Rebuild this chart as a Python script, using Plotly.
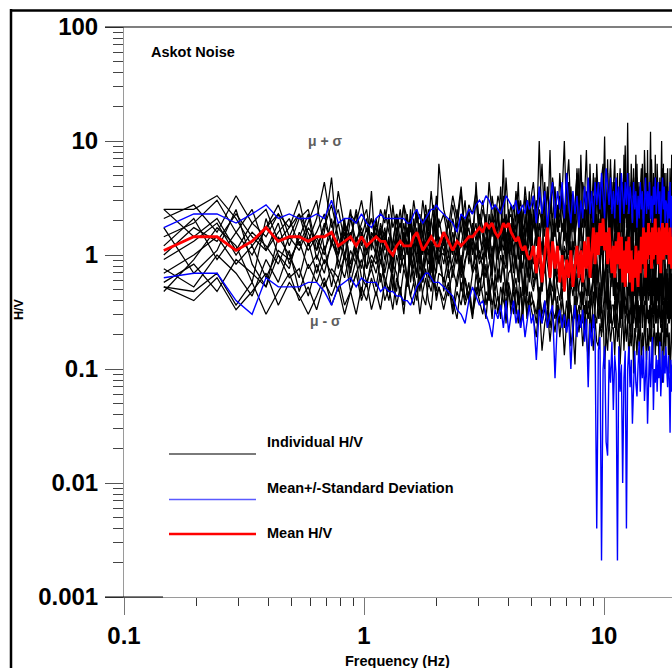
import plotly.graph_objects as go

# ---------------- data ----------------
# frequency resolution of the spectra (Hz) and the frequency bins that are plotted
DF = 0.048828125
BINS = list(range(3, 43)) + list(range(44, 103, 2)) + list(range(104, 402, 3))

# H/V values, stored as log codes: code n  <->  H/V = 10 ** ((n - 70) / 25)
HV_01 = """78 81 75 83 77 74 79 76 82 73  78 86 76 80 73 79 77 82 75 78  74 80 77 83 76 79 73 81 78 75  82 77 79 74 81 76 84 78 75 90
80 76 83 78 85 74 81 79 84 77  82 75 86 79 77 83 80 74 87 78  81 76 84 79 82 77 85 80 76 83
86 78 81 90 76 84 79 87 82 75  88 80 77 85 91 79 83 76 89 81  78 86 83 93 77 84 80 88 75 90  82 79 87 90 80 76 85 81 89 78
84 91 77 83 80 88 76 86 82 94  79 85 81 77 90 83 87 78 92 80  86 76 84 89 81 79 93 83 77 88  80 85 78 91 84 76 87 82 79 90
83 77 86 81 95 79 84 88 76 85  81 89 78 84 80 87 77 92 83 79"""
HV_02 = """80 74 78 71 77 80 73 76 79 72  75 79 72 84 76 73 80 74 78 71  77 73 80 75 72 79 76 81 74 78  73 79 75 82 77 72 78 74 80 76
79 73 81 76 84 72 78 75 82 74  80 77 72 83 78 75 85 73 79 76  74 81 77 86 72 79 83 75 80 78
83 74 80 77 86 72 81 78 85 76  79 84 73 88 77 82 75 80 87 74  81 76 85 79 72 90 78 83 76 86  77 82 75 88 80 73 84 79 91 76
80 86 74 82 78 89 75 83 77 85  76 81 88 73 84 79 86 75 82 90  78 85 74 80 90 77 83 76 88 81  75 83 79 86 73 81 77 92 78 84
80 76 87 74 83 79 90 77 85 75  82 78 84 76 89 80 75 86 79 83"""
HV_03 = """74 77 82 75 70 76 79 72 78 80  71 76 81 74 69 78 73 77 80 72  78 72 76 70 81 74 77 73 79 71  76 80 72 78 74 70 77 81 73 78
72 78 70 80 75 82 71 77 73 79  76 71 79 74 81 70 76 83 72 78  79 73 77 71 80 75 72 82 77 74
76 82 71 79 74 85 78 72 80 77  83 75 79 72 86 77 81 74 78 89  73 80 76 84 71 78 82 75 87 74  79 72 85 77 81 74 88 76 80 73
77 83 75 80 72 86 79 74 92 78  81 74 79 85 77 71 83 78 75 87  74 80 77 72 86 79 75 84 78 76  82 77 73 80 76 88 74 79 85 72
78 84 75 81 73 79 87 76 80 74  85 76 80 74 82 77 79 90 75 81"""
HV_04 = """70 76 73 79 74 71 75 78 72 77  82 71 75 70 77 74 79 72 76 73  70 77 73 78 71 75 80 72 76 69  78 72 76 71 79 74 70 76 83 72
75 70 78 73 76 71 80 74 77 69  73 79 70 77 72 80 74 71 78 75  70 76 73 79 71 77 74 70 81 73
79 72 77 70 82 75 71 78 74 80  71 77 74 81 70 76 79 72 84 75  78 71 80 74 77 70 83 76 72 79  73 78 70 82 75 79 71 77 74 86
80 72 77 74 84 70 78 75 81 71  74 79 72 80 76 73 89 77 71 78  76 72 81 74 78 70 77 83 75 72  79 74 77 71 82 75 73 80 76 78
72 81 75 78 70 84 76 73 79 77  77 73 79 75 80 72 83 76 74 79"""
HV_05 = """69 73 77 70 75 72 68 74 71 76  73 68 72 77 70 75 71 67 74 78  72 75 69 73 67 76 71 74 70 77  70 74 68 75 71 77 69 73 72 68
73 67 75 70 72 78 68 74 71 76  69 74 71 66 77 70 73 68 75 71  76 70 67 74 71 75 69 72 78 70
71 75 68 73 66 77 70 74 69 72  75 68 72 70 78 65 73 71 67 76  69 74 71 66 75 72 68 77 70 73  72 67 76 70 73 69 75 66 78 71
68 73 70 75 69 72 66 76 71 74  73 70 67 74 71 77 69 72 68 75  70 76 72 68 74 71 75 69 73 66  74 69 75 72 67 73 70 76 71 68
71 73 68 77 70 74 72 69 75 71  69 74 71 67 76 70 73 68 72 75"""
HV_06 = """66 70 74 68 72 65 71 69 73 67  70 66 73 69 65 71 68 74 67 70  68 72 66 71 69 73 67 70 65 72  69 65 72 67 70 68 73 66 71 69
64 70 67 72 65 69 71 66 73 68  70 65 68 72 66 71 64 69 67 73  66 72 69 64 70 67 73 65 71 68
65 70 67 62 72 68 64 71 66 69  68 63 71 66 69 64 73 67 62 70  71 66 63 69 67 72 65 68 64 70  64 69 72 66 61 70 67 73 65 68
69 64 67 71 66 62 70 68 72 65  66 72 65 68 63 71 67 64 69 73  70 65 69 62 68 72 66 70 64 67  63 69 66 71 65 68 72 63 67 70
68 71 64 67 70 65 69 73 66 62  65 68 72 64 69 66 71 67 63 70"""
HV_07 = """64 68 62 69 66 63 70 65 67 61  68 63 67 65 70 62 66 69 64 67  63 69 65 62 68 66 61 67 64 70  66 62 68 64 67 63 69 65 62 66
65 61 67 63 69 64 60 66 68 62  63 68 60 65 62 67 64 70 61 66  67 62 65 60 68 63 66 61 69 64
62 66 59 64 68 61 65 58 67 63  60 65 62 68 57 64 61 66 59 63  66 59 64 61 67 58 63 65 60 68  61 64 58 66 62 60 65 57 63 67
64 60 66 59 63 68 58 62 65 61  59 63 61 67 57 64 60 66 62 58  65 61 68 58 63 60 66 59 64 62  60 66 59 63 61 67 57 62 65 60
63 58 65 61 66 59 64 60 57 66  61 64 60 67 58 63 61 65 59 64"""
HV_08 = """63 60 65 58 62 66 59 64 61 57  61 65 59 63 57 62 66 60 64 58  62 58 64 60 66 59 63 57 65 61  59 63 57 62 65 60 58 64 61 63
60 64 57 62 59 65 61 56 63 60  57 62 60 65 58 61 56 63 59 64  61 57 63 59 62 56 64 60 58 62
59 55 62 57 60 54 63 58 56 61  55 60 57 53 62 58 55 61 56 59  58 62 54 60 56 59 53 62 57 55  61 56 59 53 58 62 55 57 60 54
56 60 55 58 62 54 59 56 61 57  60 55 58 52 57 61 55 59 53 58  54 59 56 61 55 57 60 53 58 56  58 53 60 56 59 54 57 61 55 59
55 60 57 54 61 56 58 53 60 57  59 56 61 55 57 60 54 58 62 55"""
HV_09 = """76 66 71 80 68 63 74 70 65 73  66 72 63 70 75 64 69 61 72 67  71 64 68 74 62 70 66 73 63 69  64 70 62 68 73 65 71 63 67 74
62 67 58 65 70 60 64 57 66 61  68 59 63 56 66 61 58 64 55 62  59 64 57 62 54 60 65 56 61 58
56 52 60 49 55 58 51 57 53 59  52 57 48 55 60 50 54 46 58 53  57 50 55 52 47 58 53 49 56 51  50 55 52 58 45 53 49 56 51 54
54 48 57 51 55 46 52 58 49 56  51 56 47 53 50 57 44 54 52 48  55 50 58 46 53 49 56 51 47 54  49 54 51 57 45 52 55 48 53 50
56 47 53 50 55 42 51 57 48 54  52 55 48 53 44 51 56 49 41 53"""
HV_10 = """62 69 76 72 64 78 70 67 75 71  74 70 78 67 73 80 69 75 71 84  69 76 71 79 67 74 70 77 72 68  75 69 77 70 74 80 72 68 76 71
70 77 72 68 79 73 76 70 86 74  71 76 69 79 73 75 71 78 70 74  77 71 74 69 80 72 76 70 73 79
68 76 71 80 66 74 93 72 77 70  74 69 77 72 67 79 70 75 68 73  77 71 68 75 80 69 74 72 66 78  70 75 73 67 78 71 91 74 69 76
73 68 78 70 75 72 67 79 71 74  69 77 71 74 66 78 72 70 75 68  76 70 73 79 71 67 74 78 70 93  71 75 69 74 77 70 73 66 79 72
74 68 76 71 73 78 70 75 69 77  70 76 72 69 78 73 71 77 74 70"""
HV_11 = """72 78 69 75 80 71 77 68 74 79  69 75 87 71 78 66 73 76 70 74  76 70 74 67 73 78 69 75 71 80  71 76 68 73 70 75 67 78 72 69
74 68 72 77 66 73 70 75 69 71  67 73 70 65 74 69 72 91 68 75  72 66 75 70 68 74 62 71 76 67
70 65 73 62 68 71 64 75 60 67  64 71 66 69 58 73 67 62 70 65  69 63 72 66 61 70 65 74 59 68  65 70 61 68 64 72 58 66 71 63
71 62 67 73 60 66 70 57 68 64  66 72 63 59 69 65 71 61 67 55  62 68 65 71 57 64 69 60 66 63  68 61 70 64 59 67 62 72 58 65
63 69 57 66 62 70 60 65 68 50  67 60 64 58 69 62 66 45 63 40"""
HV_12 = """67 63 70 66 61 69 64 71 62 68  64 69 66 62 70 67 72 65 63 69  66 71 63 68 65 62 70 67 73 64  70 66 73 65 69 71 64 68 66 73
68 74 65 71 67 76 70 73 66 78  74 70 77 68 73 79 71 75 69 80  71 78 73 82 75 70 79 74 84 72
80 73 95 76 84 71 79 86 74 81  76 83 95 78 72 85 77 81 88 73  92 77 84 80 75 87 73 82 78 85  79 86 74 81 96 76 83 77 85 72
84 75 81 88 73 79 86 77 82 91  77 99 75 82 86 78 73 84 80 76  82 78 86 73 80 84 76 88 79 83  76 81 97 79 85 74 83 78 87 75
83 77 80 86 75 89 78 82 74 88  79 85 76 83 78 81 92 75 84 80"""
HV_13 = """80 80 83 78 72 76 81 74 79 75  71 77 73 70 76 68 74 71 67 75  73 68 75 71 66 74 69 72 76 70  67 73 70 64 71 75 66 72 69 74
71 65 69 73 62 68 74 67 70 64  66 71 63 69 74 64 70 67 62 72  68 63 70 65 73 61 67 71 64 69
63 68 60 66 71 58 65 62 69 64  67 61 65 70 59 64 68 56 66 62  60 66 62 57 67 63 59 68 61 65  66 59 64 68 60 62 67 55 63 69
61 67 58 64 62 69 57 65 60 66  64 58 66 61 67 55 63 68 59 62  67 63 60 66 58 65 61 69 56 64  62 68 64 59 66 61 67 57 65 60
65 60 67 63 58 66 61 64 69 57  63 66 59 65 61 68 57 64 60 66"""
HV_14 = """63 62 66 59 64 57 62 66 60 63  58 64 61 65 59 62 57 63 60 65  61 66 60 63 58 65 62 59 66 61  64 60 66 61 59 64 62 66 60 63
58 63 60 56 64 59 62 57 61 65  61 56 64 59 62 57 63 60 58 63  57 62 59 55 63 58 61 56 62 59
60 57 63 55 58 61 54 59 62 56  58 62 54 60 56 59 52 61 57 55  62 55 59 53 60 57 61 54 58 63  56 60 54 58 62 51 57 60 55 59
59 54 61 57 52 60 56 58 62 55  57 61 55 59 56 53 60 57 61 54  60 55 58 62 54 59 57 52 60 56  55 59 56 53 61 57 60 55 58 62
61 56 59 55 58 53 60 57 54 59  57 60 55 62 56 59 54 58 61 56"""

MEAN_HV = """71 74 74 71 73 76 73 74 74 73  74 74 75 72 73 74 72 74 72 73  74 73 73 71 70 72 73 72 72 72  74 75 73 71 72 73 74 73 72 72
75 73 71 73 72 73 74 74 75 76  75 77 76 77 75 74 75 77 76 77  75 74 73 74 72 71 72 70 69 70
72 66 74 64 71 76 65 73 67 72  64 70 62 69 65 71 63 68 72 65  71 64 73 67 74 65 72 76 68 75  70 77 72 78 71 75 68 76 70 66
72 65 73 68 75 67 74 64 71 63  73 66 74 64 71 62 69 65 72 67  63 71 66 74 68 76 70 65 75 69  77 70 75 67 76 69 74 78 70 75
68 76 71 66 74 77 69 73 76 70  77 70 75 68 76 71 67 74 70 76"""
MEAN_PLUS_SD = """76 79 79 77 79 81 78 79 78 78  79 78 82 77 78 78 77 79 77 76  78 79 78 78 78 78 78 78 77 77  79 80 78 77 78 79 80 80 81 80
79 78 77 75 79 78 80 79 81 82  81 83 82 80 81 80 79 81 83 82  81 80 82 79 80 81 79 82 80 81
83 77 85 79 84 76 82 86 78 84  80 86 78 88 81 77 84 79 83 76  82 78 85 80 87 79 84 77 86 81  86 80 88 83 78 89 84 81 87 79
84 78 87 81 85 77 88 82 79 86  81 88 79 85 82 77 86 80 84 76  83 78 86 80 84 75 82 87 79 84  80 86 78 83 77 85 81 87 79 84
86 79 84 76 83 87 80 85 77 82  81 76 84 78 86 74 83 79 86 80"""
MEAN_MINUS_SD = """65 66 66 60 57 65 63 63 63 64  64 62 59 63 64 65 63 65 64 64  64 62 63 62 62 61 61 60 60 59  61 63 64 65 66 66 65 64 64 64
63 62 61 58 57 55 60 63 61 59  60 57 55 52 58 56 59 54 60 53  57 60 55 58 54 57 52 56 59 55
57 47 58 55 60 54 57 59 43 56  58 54 57 53 56 45 55 59 52 57  54 58 51 56 41 55 50 57 52 10  49 52 3 45 50 29 26 47 42 51
36 48 44 3 50 40 46 20 43 49  10 45 50 41 47 33 44 49 42 39  46 51 40 48 43 50 38 45 49 33  44 50 41 47 52 36 45 42 48 40
47 43 51 39 46 49 42 48 44 50  45 41 48 43 31 47 40 46 44 49"""

X_TICKS = [0.1, 1, 10]
X_MINOR = [0.2, 0.3, 0.4, 0.5, 0.6, 0.7, 0.8, 0.9, 2, 3, 4, 5, 6, 7, 8, 9]
Y_TICKS = [0.001, 0.01, 0.1, 1, 10, 100]
Y_LABELS = ["0.001", "0.01", "0.1", "1", "10", "100"]
Y_MINOR = [m * d for d in (0.001, 0.01, 0.1, 1, 10) for m in range(2, 10)]


def decode(code):
    return [10 ** ((int(t) - 70) / 25) for t in code.split()]


freqs = [b * DF for b in BINS]

# ---------------- layout geometry ----------------
W, H = 672, 668
L, R, T, B = 124, 0, 27, 71
PW, PH = W - L - R, H - T - B


def px(x):
    return (x - L) / PW


def py(y):
    return (H - B - y) / PH


FONT = "Liberation Sans, Arial, Helvetica, sans-serif"

fig = go.Figure()

for code in [HV_01, HV_02, HV_03, HV_04, HV_05, HV_06, HV_07, HV_08, HV_09, HV_10, HV_11, HV_12, HV_13, HV_14]:
    v = decode(code)
    fig.add_trace(go.Scatter(x=freqs[:len(v)], y=v, mode="lines",
                             line=dict(color="black", width=1.25), hoverinfo="skip"))

for code in [MEAN_PLUS_SD, MEAN_MINUS_SD]:
    v = decode(code)
    fig.add_trace(go.Scatter(x=freqs[:len(v)], y=v, mode="lines",
                             line=dict(color="#0000ff", width=1.4), hoverinfo="skip"))

v = decode(MEAN_HV)
fig.add_trace(go.Scatter(x=freqs[:len(v)], y=v, mode="lines",
                         line=dict(color="#ff0000", width=2.8), hoverinfo="skip"))

fig.update_layout(
    width=W, height=H,
    margin=dict(l=L, r=R, t=T, b=B, pad=0),
    paper_bgcolor="white", plot_bgcolor="white",
    showlegend=False,
    font=dict(family=FONT, color="black"),
)

fig.update_xaxes(
    type="log", range=[-1, (W - L) / 240 - 1],
    showgrid=False, zeroline=False,
    showline=True, linecolor="#9a9a9a", linewidth=1,
    ticks="outside", ticklen=17, tickwidth=1, tickcolor="#777777",
    tickvals=X_TICKS, ticktext=["<b>0.1</b>", "<b>1</b>", "<b>10</b>"],
    tickfont=dict(family=FONT, size=24, color="black"),
    minor=dict(ticks="outside", ticklen=8, tickwidth=1, tickcolor="#333333",
               tickmode="array", tickvals=X_MINOR, showgrid=False),
)
fig.update_yaxes(
    type="log", range=[-3, 2],
    showgrid=False, zeroline=False,
    showline=True, linecolor="#9a9a9a", linewidth=1,
    ticks="outside", ticklen=18, tickwidth=1, tickcolor="#555555",
    ticklabelstandoff=2,
    tickvals=Y_TICKS, ticktext=["<b>%s</b>" % s for s in Y_LABELS],
    tickfont=dict(family=FONT, size=24, color="black"),
    minor=dict(ticks="outside", ticklen=10, tickwidth=1, tickcolor="#444444",
               tickmode="array", tickvals=Y_MINOR, showgrid=False),
)

shapes = []


def hline(x0, x1, y, color, width):
    shapes.append(dict(type="line", xref="paper", yref="paper",
                       x0=px(x0), x1=px(x1), y0=py(y), y1=py(y),
                       line=dict(color=color, width=width)))


def vline(x, y0, y1, color, width):
    shapes.append(dict(type="line", xref="paper", yref="paper",
                       x0=px(x), x1=px(x), y0=py(y0), y1=py(y1),
                       line=dict(color=color, width=width)))


# outer frame (left and top borders)
vline(11, 9, 672, "black", 2.5)
hline(10, 680, 10.5, "black", 2.5)
# top axis border and short black segment on the bottom axis
hline(105, 680, 27, "black", 1.2)
hline(105, 163, 597, "black", 1)
# legend samples
hline(169, 256, 454, "#7a7a7a", 2)
hline(169, 256, 499.5, "#5a5aff", 1.6)
hline(169, 256, 534, "#ff0000", 2.5)

fig.update_layout(shapes=shapes)


def label(text, x, y, size, xanchor="left", color="black", angle=0):
    fig.add_annotation(text=text, x=px(x), y=py(y), xref="paper", yref="paper",
                       xanchor=xanchor, yanchor="middle", showarrow=False,
                       textangle=angle, font=dict(family=FONT, size=size, color=color))


label("<b>Askot Noise</b>", 149, 52, 14.5)
label("<b>\u03bc + \u03c3</b>", 325, 141, 14, xanchor="center", color="#5e5e5e")
label("<b>\u03bc - \u03c3</b>", 325, 321, 14, xanchor="center", color="#5e5e5e")
label("<b>Individual H/V</b>", 265, 442, 14.5)
label("<b>Mean+/-Standard Deviation</b>", 265, 488, 14.5)
label("<b>Mean H/V</b>", 265, 533, 14.5)
label("<b>Frequency (Hz)</b>", 397, 661, 14.5, xanchor="center")
label("<b>H/V</b>", 19, 309, 12.5, xanchor="center", angle=-90)

fig.write_html("out.html", config={"displayModeBar": False})
